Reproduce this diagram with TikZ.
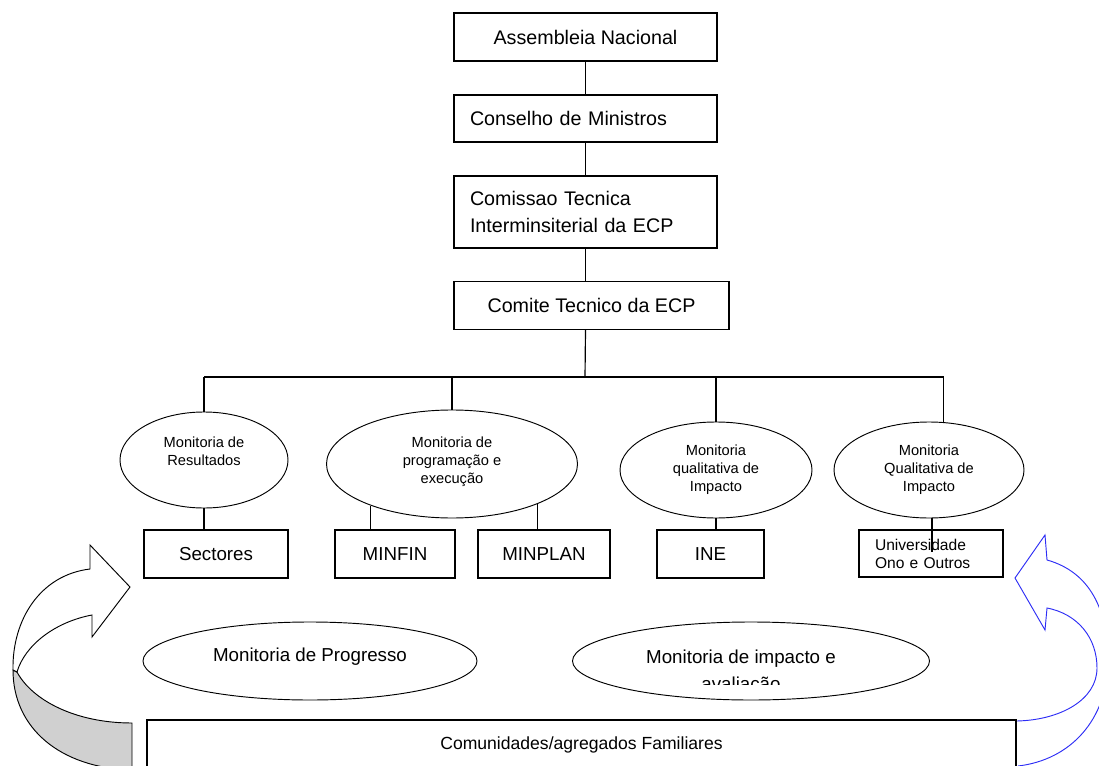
\documentclass[tikz,border=0pt]{standalone}
\usepackage{fontspec}
\setmainfont{Liberation Sans}
\usetikzlibrary{shapes.geometric}
\definecolor{arrowgray}{RGB}{208,208,208}
\definecolor{arrowblue}{RGB}{45,45,245}

\begin{document}
\begin{tikzpicture}[x=0.03cm,y=-0.03cm]
    \tikzstyle{topbox} = [rectangle, 
minimum width=7.89cm, 
minimum height=1.44cm, 
inner sep=0pt,
text centered, 
font=\fontsize{16.8}{23}\selectfont,
line width=1pt,
draw=black]

\tikzstyle{leftbox} = [topbox, 
align=left, 
text width=6.93cm, 
inner xsep=0.48cm]

\tikzstyle{mon} = [ellipse, 
minimum height=2.88cm, 
inner sep=0pt, 
align=center, 
font=\fontsize{12.5}{15.4}\selectfont,
line width=0.8pt,
draw=black]

\tikzstyle{unit} = [rectangle, 
minimum height=1.44cm, 
inner sep=0pt, 
font=\fontsize{16}{20}\selectfont,
line width=1pt,
draw=black]

\tikzstyle{progress} = [ellipse, 
minimum height=2.34cm, 
inner sep=0pt, 
align=center, 
font=\fontsize{16}{20}\selectfont,
line width=0.8pt,
draw=black]
\tikzstyle{line} = [line width=1pt]
\tikzstyle{turn} = [line width=0.8pt]

\useasboundingbox (0,0) rectangle (1099,766);

\node (assembleia) [topbox] at (585.5,37) {Assembleia Nacional};
\node (conselho) [leftbox, minimum height=1.41cm] at (585.5,118.5) {Conselho de Ministros};
\node (comissao) [leftbox, minimum height=2.16cm] at (585.5,212) {Comissao Tecnica\\Interminsiterial da ECP};
\node (comite) [topbox, minimum width=8.25cm] at (591.5,305.5) {Comite Tecnico da ECP};
\coordinate (bus) at (585,377);

\node (resultados) [mon, minimum width=5.04cm] at (204,460) {Monitoria de\\Resultados\\\mbox{}};
\node (programacao) [mon, minimum width=7.53cm, minimum height=3.24cm] at (452,464) {Monitoria de\\programação e\\execução\\[-9pt]\mbox{}};
\node (qualitativa) [mon, minimum width=5.76cm] at (716,470) {Monitoria\\qualitativa de\\Impacto};
\node (qualitativa2) [mon, minimum width=5.7cm] at (929,470) {Monitoria\\Qualitativa de\\Impacto};

\node (sectores) [unit, minimum width=4.32cm] at (216,554) {Sectores};
\node (minfin) [unit, minimum width=3.6cm] at (395,554) {MINFIN};
\node (minplan) [unit, minimum width=3.96cm] at (544,554) {MINPLAN};
\node (ine) [unit, minimum width=3.21cm] at (710.5,554) {INE};
\node (universidade) [unit, minimum width=4.32cm, minimum height=1.41cm, align=left, text width=3.36cm, inner xsep=0.48cm, font=\fontsize{13.3}{15.4}\selectfont] at (931,553.5) {Universidade\\Ono e Outros};
\coordinate (unitail) at (932,552);

\node (progresso) [progress, minimum width=10.02cm] at (310,661) {Monitoria de Progresso\\[-10pt]\mbox{}};
\node (avaliacao) [progress, minimum width=10.71cm] at (751,661) {};
\node (impactotexto) [font=\fontsize{16}{20}\selectfont, anchor=base, inner sep=0pt] at (741,663) {Monitoria de impacto e};
\begin{scope}
\clip (600,640) rectangle (900,684);
\node (avaliacaotexto) [font=\fontsize{16}{20}\selectfont, anchor=base, inner sep=0pt] at (741,690) {avaliação};
\end{scope}

\node (comunidades) [unit, minimum width=26.07cm, minimum height=1.5cm, font=\fontsize{15}{18}\selectfont] at (581.5,745) {Comunidades/agregados Familiares};

% curved arrows at both sides
\draw [turn, fill=arrowgray] (17,672) .. controls (32,700) and (75,723) .. (132,723) -- (132,770) .. controls (60,768) and (13,728) .. (13,670) -- cycle;
\draw [turn, fill=white] (13,670) .. controls (12,620) and (40,575) .. (90,569) -- (90,545) -- (130,587) -- (92,637) -- (92,615) .. controls (55,622) and (25,645) .. (17,672) -- cycle;
\draw [turn, draw=arrowblue] (1018,766) .. controls (1070,760) and (1108,720) .. (1108,660) .. controls (1108,610) and (1090,572) .. (1047,560) -- (1045,535) -- (1015,578) -- (1045,630) -- (1047,608) .. controls (1078,614) and (1097,638) .. (1097,668) .. controls (1097,700) and (1060,720) .. (1017,721);

\draw [line] (assembleia) -- (conselho);
\draw [line] (conselho) -- (comissao);
\draw [line] (comissao.south) -- (comissao.south |- comite.north);
\draw [line] (comissao.south |- comite.south) -- (bus);
\draw [line] (resultados.north |- bus) -- (qualitativa2.73.6 |- bus);
\draw [line] (resultados.north |- bus) -- (resultados.north);
\draw [line] (programacao.north |- bus) -- (programacao.north);
\draw [line] (qualitativa.north |- bus) -- (qualitativa.north);
\draw [line] (qualitativa2.73.6 |- bus) -- (qualitativa2.73.6);
\draw [line] (resultados.south) -- (resultados.south |- sectores.north);
\draw [line] (programacao.207) -- (programacao.207 |- minfin.north);
\draw [line] (programacao.335.4) -- (programacao.335.4 |- minplan.north);
\draw [line] (qualitativa.south) -- (qualitativa.south |- ine.north);
\draw [line] (qualitativa2.south -| unitail) -- (unitail);

\end{tikzpicture}
\end{document}
